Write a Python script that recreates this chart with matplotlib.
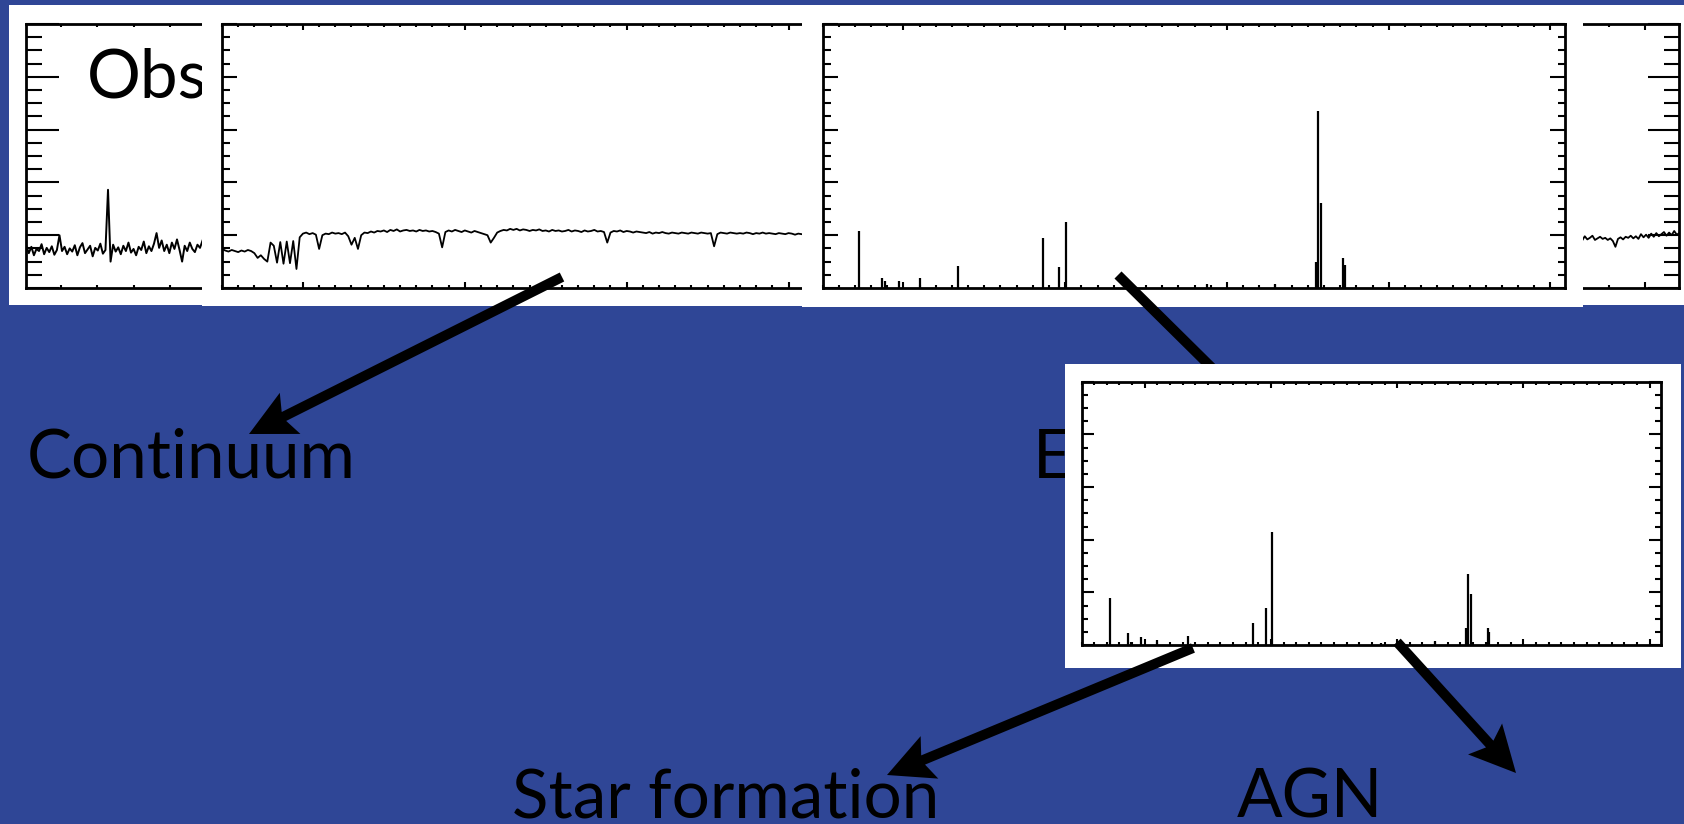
import matplotlib.pyplot as plt
import numpy as np
from matplotlib.patches import Rectangle, FancyArrow
from matplotlib.ticker import MultipleLocator
from matplotlib.transforms import Affine2D

W, H = 1684, 824
BLUE = '#2F4696'

# observed spectrum (left strip), flux vs wavelength [A]
obs_wave = np.arange(4010, 4990, 14)
obs_flux = [0.80, 0.66, 0.78, 0.62, 0.74, 0.70, 0.83, 0.64, 0.76, 0.68,
            0.79, 0.63, 0.72, 1.00, 0.70, 0.78, 0.64, 0.75, 0.69, 0.81,
            0.62, 0.77, 0.85, 0.66, 0.73, 0.80, 0.60, 0.76, 0.71, 0.84,
            0.65, 0.72, 1.86, 0.50, 0.82, 0.69, 0.77, 0.64, 0.80, 0.70,
            0.86, 0.67, 0.74, 0.62, 0.78, 0.72, 0.88, 0.66, 0.79, 0.70,
            0.84, 1.04, 0.76, 0.90, 0.70, 0.82, 0.66, 0.86, 0.74, 0.92,
            0.72, 0.50, 0.80, 0.70, 0.86, 0.74, 0.68, 0.82, 0.76, 0.90]

# stellar continuum fit
cont_wave = np.arange(3500, 7201, 20)
cont_flux = [0.74, 0.71, 0.69, 0.72, 0.70, 0.68, 0.71, 0.69, 0.72, 0.70,
             0.66, 0.57, 0.62, 0.55, 0.50, 0.86, 0.80, 0.48, 0.87, 0.46,
             0.88, 0.47, 0.89, 0.36, 0.96, 1.03, 1.05, 1.02, 1.04, 1.01,
             0.74, 1.00, 1.03, 1.02, 1.05, 1.03, 1.04, 1.02, 1.05, 0.98,
             0.82, 0.95, 0.74, 1.00, 1.05, 1.04, 1.07, 1.05, 1.08, 1.07,
             1.09, 1.06, 1.10, 1.08, 1.11, 1.07, 1.09, 1.10, 1.08, 1.09,
             1.07, 1.10, 1.08, 1.09, 1.07, 1.08, 1.06, 1.03, 0.77, 1.06,
             1.09, 1.07, 1.10, 1.08, 1.06, 1.09, 1.07, 1.05, 1.08, 1.06,
             1.04, 1.02, 1.00, 0.86, 0.95, 1.05, 1.08, 1.10, 1.09, 1.12,
             1.10, 1.12, 1.09, 1.11, 1.10, 1.08, 1.10, 1.09, 1.11, 1.08,
             1.09, 1.07, 1.10, 1.08, 1.09, 1.07, 1.08, 1.10, 1.07, 1.09,
             1.08, 1.06, 1.09, 1.07, 1.08, 1.10, 1.07, 1.08, 1.06, 0.86,
             1.05, 1.08, 1.07, 1.09, 1.06, 1.08, 1.07, 1.05, 1.07, 1.06,
             1.05, 1.04, 1.06, 1.03, 1.05, 1.04, 1.06, 1.04, 1.03, 1.05,
             1.04, 1.03, 1.05, 1.04, 1.03, 1.05, 1.04, 1.03, 1.05, 1.04,
             1.03, 1.04, 0.79, 1.02, 1.05, 1.04, 1.03, 1.05, 1.04, 1.03,
             1.04, 1.03, 1.05, 1.04, 1.02, 1.04, 1.03, 1.05, 1.03, 1.04,
             1.03, 1.02, 1.04, 1.03, 1.02, 1.04, 1.03, 1.01, 1.03, 1.02,
             1.01, 1.03, 1.02, 1.01, 1.02, 1.01]

# residual spectrum (right strip)
resid_wave = np.arange(7640, 8190, 14)
resid_flux = [0.96, 0.90, 0.98, 0.92, 0.95, 0.99, 0.91, 0.94, 0.97, 0.93,
              0.95, 0.91, 0.94, 0.89, 0.78, 0.93, 0.96, 0.92, 0.97, 0.95,
              0.99, 0.94, 0.98, 0.93, 1.02, 0.96, 1.01, 0.95, 1.03, 0.97,
              1.04, 0.98, 1.02, 1.06, 0.99, 1.05, 1.00, 1.08, 1.01, 1.04]

# emission lines: rest wavelength and peak flux
line_wave = [3727, 3869, 3889, 3970, 4101, 4340, 4861, 4959, 5007,
             5876, 6300, 6548, 6563, 6583, 6717, 6731]
line_flux = [1.08, 0.18, 0.14, 0.14, 0.19, 0.42, 0.95, 0.40, 1.25,
             0.08, 0.08, 0.50, 3.36, 1.61, 0.57, 0.44]
line_flux_2 = [0.90, 0.22, 0.05, 0.15, 0.10, 0.17, 0.41, 0.70, 2.14,
               0.04, 0.08, 0.32, 1.34, 0.96, 0.32, 0.25]

plt.rcParams['font.family'] = ['Lato', 'DejaVu Sans']

fig = plt.figure(figsize=(W / 100, H / 100), dpi=100, facecolor=BLUE)
# pixel coordinates, origin top-left
px = Affine2D().scale(1 / W, -1 / H).translate(0, 1) + fig.transFigure


def card(x0, y0, x1, y1, z):
    fig.add_artist(Rectangle((x0, y0), x1 - x0, y1 - y0, transform=px,
                             facecolor='white', edgecolor='none', zorder=z))


def panel(x0, y0, x1, y1, z, xlim, xminor, ytick):
    ax = fig.add_axes([x0 / W, 1 - y1 / H, (x1 - x0) / W, (y1 - y0) / H],
                      facecolor='none', zorder=z)
    ax.set_xlim(*xlim)
    ax.set_ylim(0, 5)
    ax.xaxis.set_major_locator(MultipleLocator(1000))
    ax.xaxis.set_minor_locator(MultipleLocator(xminor))
    ax.yaxis.set_major_locator(MultipleLocator(1))
    ax.yaxis.set_minor_locator(MultipleLocator(0.25))
    ax.tick_params(which='both', direction='in', top=True, right=True,
                   labelbottom=False, labelleft=False, width=1.5)
    ax.tick_params(axis='y', which='major', length=ytick)
    ax.tick_params(axis='y', which='minor', length=ytick / 2)
    ax.tick_params(axis='x', which='major', length=4)
    ax.tick_params(axis='x', which='minor', length=2)
    for s in ax.spines.values():
        s.set_linewidth(2.0)
    return ax


def arrow(x0, y0, x1, y1, z):
    fig.add_artist(FancyArrow(x0, y0, x1 - x0, y1 - y0, width=10,
                              head_width=46, head_length=46, overhang=0.15,
                              length_includes_head=True, transform=px,
                              facecolor='black', edgecolor='none', zorder=z))


def label(x, y, s, z):
    fig.text(x / W, 1 - y / H, s, fontsize=48.5, color='black',
             va='baseline', ha='left', zorder=z)


# observed
card(9, 5, 600, 305, 1)
ax1 = panel(25.7, 24, 768.7, 288, 1.1, (4007, 8078), 200, 23.5)
ax1.plot(obs_wave, obs_flux, color='black', lw=1.4)
label(87, 98, 'Observed', 1.2)

# continuum
card(202, 5, 1000, 306, 2)
ax2 = panel(222, 24, 965, 288, 2.1, (3500, 8090), 100, 10.8)
ax2.plot(cont_wave, cont_flux, color='black', lw=1.3)
arrow(562, 277, 249, 434, 2.2)
label(27, 477, 'Continuum', 2.3)

# residual
card(900, 5, 1684, 305, 2.5)
ax4 = panel(936.3, 24, 1679.3, 288, 2.6, (4115, 8186), 200, 22)
ax4.plot(resid_wave, resid_flux, color='black', lw=1.3)

# emission lines
card(802, 5, 1583, 307, 3)
ax3 = panel(822.5, 24, 1565, 288, 3.1, (3500, 8090), 100, 10.8)
ax3.vlines(line_wave, 0, line_flux, color='black', lw=1.6)
arrow(1118, 275, 1290, 445, 3.2)
label(1033, 477, 'Emission lines', 3.3)

# emission lines split into star formation and AGN
card(1065, 364, 1681, 668, 4)
ax5 = panel(1081.5, 381.7, 1661, 645, 4.1, (3500, 8090), 100, 8.4)
ax5.vlines(line_wave, 0, line_flux_2, color='black', lw=1.6)
arrow(1193, 648, 887, 775, 4.2)
arrow(1397, 642, 1516, 773, 4.2)
label(512, 817, 'Star formation', 4.3)
label(1237, 817, 'AGN', 4.3)

fig.savefig('out.png', dpi=100, facecolor=BLUE)
